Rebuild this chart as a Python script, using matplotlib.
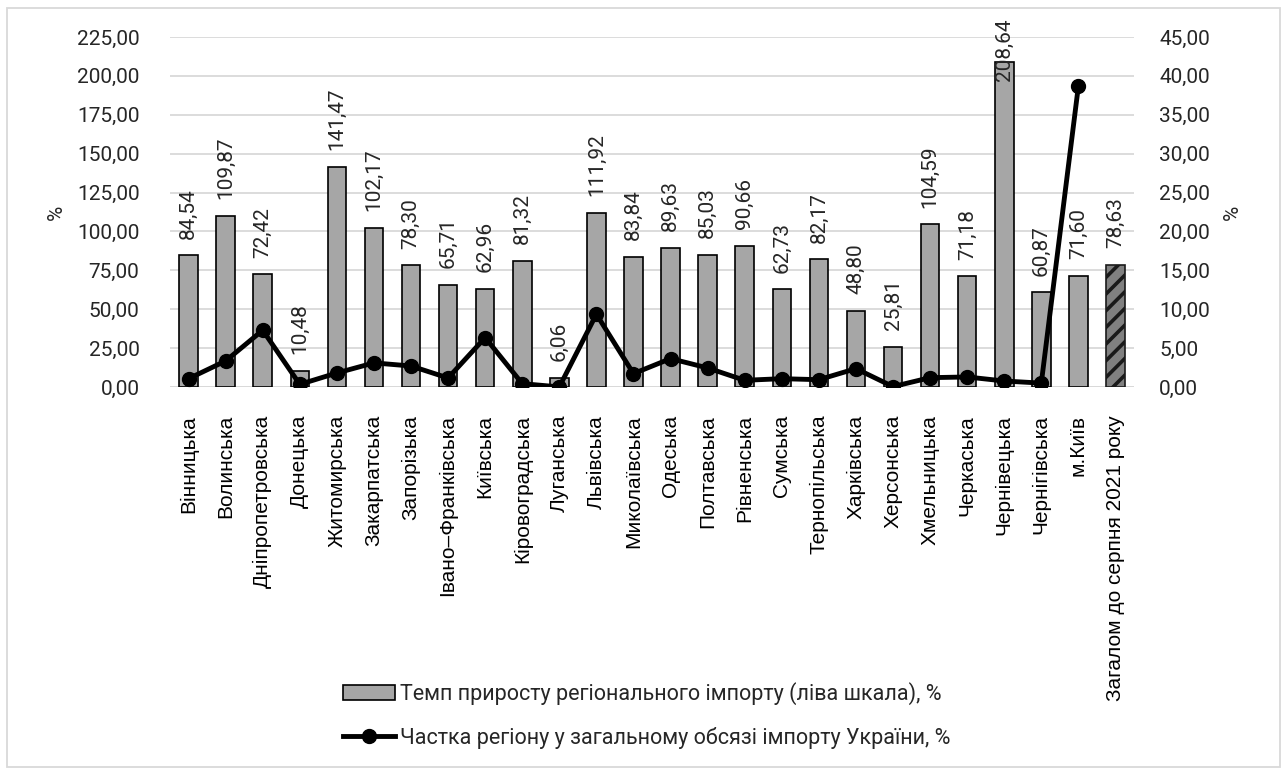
import matplotlib
matplotlib.use("Agg")
import matplotlib.pyplot as plt
from matplotlib.patches import Rectangle, Patch
from matplotlib.lines import Line2D
from matplotlib.ticker import FuncFormatter, MultipleLocator
import numpy as np

regions = [
    "Вінницька", "Волинська", "Дніпропетровська", "Донецька", "Житомирська",
    "Закарпатська", "Запорізька", "Івано–Франківська", "Київська",
    "Кіровоградська", "Луганська", "Львівська", "Миколаївська", "Одеська",
    "Полтавська", "Рівненська", "Сумська", "Тернопільська", "Харківська",
    "Херсонська", "Хмельницька", "Черкаська", "Чернівецька", "Чернігівська",
    "м.Київ", "Загалом до серпня 2021 року",
]
growth_rate = [
    84.54, 109.87, 72.42, 10.48, 141.47, 102.17, 78.30, 65.71, 62.96, 81.32,
    6.06, 111.92, 83.84, 89.63, 85.03, 90.66, 62.73, 82.17, 48.80, 25.81,
    104.59, 71.18, 208.64, 60.87, 71.60, 78.63,
]
# share of each region in total imports (no value for the overall total)
import_share = [
    1.07, 3.35, 7.30, 0.34, 1.80, 3.10, 2.70, 1.16, 6.35, 0.43,
    0.01, 9.36, 1.72, 3.65, 2.45, 0.86, 1.07, 0.94, 2.36, 0.05,
    1.20, 1.29, 0.77, 0.50, 38.70,
]
legend_labels = [
    "Темп приросту регіонального імпорту (ліва шкала), %",
    "Частка регіону у загальному обсязі імпорту України, %",
]

W, H = 1283, 769
TEXT = "#262626"
NUM_FONT = ["Roboto", "DejaVu Sans"]
CAT_FONT = ["Liberation Sans", "DejaVu Sans"]
plt.rcParams["font.family"] = NUM_FONT
plt.rcParams["hatch.linewidth"] = 2.6

fig = plt.figure(figsize=(W / 100, H / 100), dpi=100)
ax = fig.add_axes([170 / W, 1 - 387 / H, (1134 - 170) / W, (387 - 37) / H])
ax2 = ax.twinx()

x = np.arange(len(regions))
colors = ["#A6A6A6"] * (len(regions) - 1) + ["#808080"]
bars = ax.bar(x, growth_rate, width=0.5, color=colors, edgecolor="black",
              linewidth=1.2, zorder=2)
bars[-1].set_hatch("//")
bars[-1].set_edgecolor("#1a1a1a")

ax.set_xlim(-0.5, len(regions) - 0.5)
ax.set_ylim(0, 225)
ax.yaxis.set_major_locator(MultipleLocator(25))
comma = FuncFormatter(lambda v, _: f"{v:.2f}".replace(".", ","))
ax.yaxis.set_major_formatter(comma)
ax.grid(axis="y", color="#D9D9D9", linewidth=1.3, zorder=0)
ax.set_axisbelow(True)

ax2.plot(x[:len(import_share)], import_share, color="black", linewidth=3.5,
         marker="o", markersize=10, zorder=3)
ax2.set_ylim(0, 45)
ax2.yaxis.set_major_locator(MultipleLocator(5))
ax2.yaxis.set_major_formatter(comma)

for a in (ax, ax2):
    for side in ("top", "left", "right", "bottom"):
        a.spines[side].set_visible(False)
    a.tick_params(axis="y", length=0, labelsize=15, labelcolor=TEXT)
ax.tick_params(axis="y", pad=22)
ax2.tick_params(axis="y", pad=18)
ax.axhline(0, color="#D9D9D9", linewidth=1.3, zorder=1)

ax.set_xticks(x)
ax.set_xticklabels(regions, rotation=90, fontsize=15, family=CAT_FONT,
                   color="black", va="top", ha="center")
ax.tick_params(axis="x", length=0, pad=20)

# value labels above the bars, moved inside when there is no room on top
for xi, v in zip(x, growth_rate):
    txt = f"{v:.2f}".replace(".", ",")
    off = 12 if v < 190 else -13
    ax.annotate(txt, (xi, v), xytext=(0, off), textcoords="offset points",
                rotation=90, ha="center", va="bottom", fontsize=15,
                color=TEXT, zorder=2.5, annotation_clip=False)

# axis titles
fig.text(56 / W, 1 - 212 / H, "%", rotation=90, ha="center", va="center",
         fontsize=15, color=TEXT)
fig.text(1232 / W, 1 - 212 / H, "%", rotation=90, ha="center", va="center",
         fontsize=15, color=TEXT)

handles = [
    Patch(facecolor="#A6A6A6", edgecolor="black", linewidth=1.2),
    Line2D([], [], color="black", linewidth=3.5, marker="o", markersize=10),
]
fig.legend(handles, legend_labels, loc="center left",
           bbox_to_anchor=(343 / W, 1 - 715.5 / H), frameon=False,
           fontsize=15.5, handlelength=2.4, handletextpad=0.25,
           labelspacing=1.0, borderpad=0, borderaxespad=0,
           labelcolor=TEXT)

fig.patches.append(Rectangle((7 / W, 2 / H), (1280 - 7) / W, (761 - 2) / H,
                             transform=fig.transFigure, fill=False,
                             edgecolor="#D9D9D9", linewidth=1.3))

fig.savefig("out.png", dpi=100)
